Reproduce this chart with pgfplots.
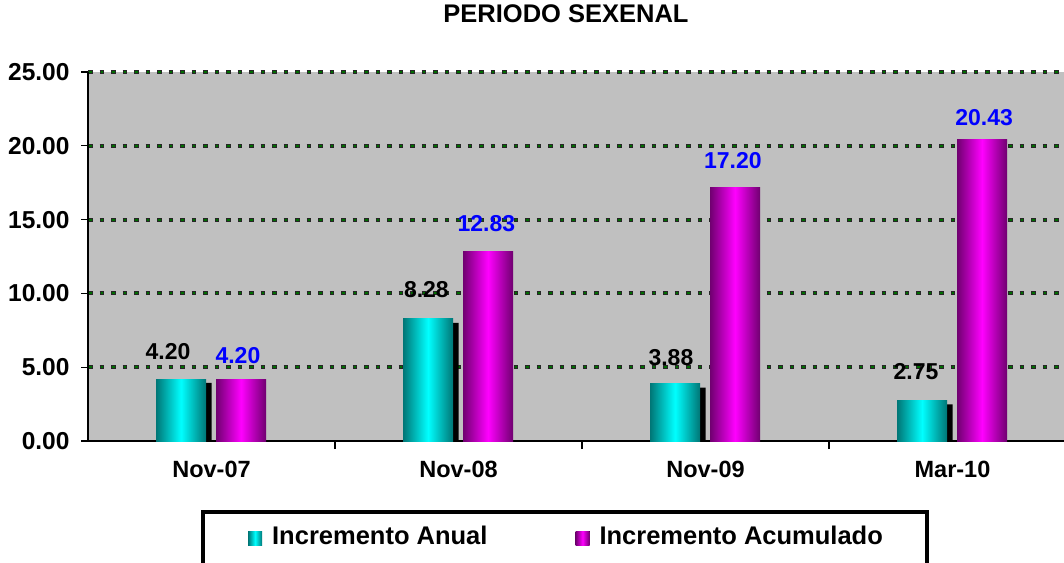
\documentclass[border=0pt]{standalone}
\usepackage{pgfplots}
\pgfplotsset{compat=1.18}
\usepackage{fontspec}
\setmainfont{Liberation Sans}
\definecolor{plotgray}{RGB}{192,192,192}
\definecolor{cyanedge}{RGB}{0,118,118}
\definecolor{cyanmid}{RGB}{0,255,255}
\definecolor{magedge}{RGB}{112,0,112}
\definecolor{magmid}{RGB}{255,0,255}
\definecolor{labblue}{RGB}{0,0,255}
\definecolor{gridgreen}{RGB}{0,110,0}
\pgfplotsset{
  anualbar/.style={ybar, bar width=50pt, bar shift=-30.5pt, draw=none,
    left color=cyanedge, right color=cyanedge, middle color=cyanmid},
  acumbar/.style={ybar, bar width=50pt, bar shift=29.5pt, draw=none,
    left color=magedge, right color=magedge, middle color=magmid},
}
\begin{document}
\begin{tikzpicture}[x=1pt,y=1pt]
\useasboundingbox (0,0) rectangle (1064,562);
\begin{axis}[
  at={(88pt,121pt)}, anchor=south west,
  scale only axis, width=988pt, height=369pt,
  xmin=-0.5, xmax=3.5, ymin=0, ymax=25,
  clip=false,
  axis background/.style={fill=plotgray},
  axis x line*=bottom, axis y line*=left,
  axis line style={-, black, line width=1.2pt},
  tick align=outside,
  major tick length=7pt,
  minor tick length=8pt,
  xtick={0,1,2,3},
  xticklabels={Nov-07,Nov-08,Nov-09,Mar-10},
  minor xtick={0.5,1.5,2.5},
  major x tick style={draw=none},
  minor x tick style={draw=black, line width=1.2pt},
  ytick={5,10,15,20,25},
  extra y ticks={0},
  extra y tick style={grid=none},
  y tick style={draw=black, line width=1.2pt},
  ymajorgrids,
  major grid style={draw=black!85, line width=4pt, dash pattern=on 4.5pt off 7pt,
    postaction={draw=gridgreen, line width=2pt, dash pattern=on 2.5pt off 9pt, dash phase=-1pt}},
  /pgf/number format/assume math mode=true,
  yticklabel={\pgfmathprintnumber[fixed,fixed zerofill,precision=2]{\tick}},
  tick label style={font=\bfseries\fontsize{23.5}{27}\selectfont, text=black},
  yticklabel style={font=\bfseries\fontsize{24.5}{28}\selectfont, xshift=-8pt},
  xticklabel style={yshift=-10pt},
  title={PERIODO SEXENAL},
  title style={at={(axis description cs:0.4838,1.1409)}, anchor=center,
    font=\bfseries\fontsize{25.5}{30}\selectfont},
  legend style={at={(axis description cs:0.1619,-0.258)}, anchor=west,
    draw=none, fill=none, inner sep=0pt,
    font=\bfseries\fontsize{25.5}{30}\selectfont,
    /tikz/every even column/.append style={column sep=86pt}},
  legend columns=2,
  legend cell align=left,
]
% shadow behind the annual bars
\addplot[ybar, bar width=50pt, bar shift=-25pt, fill=black, draw=none, forget plot]
  coordinates {(0,3.93) (1,8.01) (2,3.61) (3,2.48)};
% Incremento Anual (one plot per bar, so each bar gets its own shading)
\addplot[anualbar,
  legend image code/.code={\fill[left color=cyanedge,right color=cyanedge,middle color=cyanmid] (0pt,-9pt) rectangle (14pt,5pt); \path (22pt,0pt);}]
  coordinates {(0,4.20)};
\addlegendentry{Incremento Anual}
\addplot[anualbar, forget plot] coordinates {(1,8.28)};
\addplot[anualbar, forget plot] coordinates {(2,3.88)};
\addplot[anualbar, forget plot] coordinates {(3,2.75)};
% Incremento Acumulado
\addplot[acumbar,
  legend image code/.code={\fill[left color=magedge,right color=magedge,middle color=magmid] (0pt,-9pt) rectangle (14pt,5pt); \path (22pt,0pt);}]
  coordinates {(0,4.20)};
\addlegendentry{Incremento Acumulado}
\addplot[acumbar, forget plot] coordinates {(1,12.83)};
\addplot[acumbar, forget plot] coordinates {(2,17.20)};
\addplot[acumbar, forget plot] coordinates {(3,20.43)};
% value labels
\addplot[only marks, mark=none, forget plot, nodes near coords, point meta=explicit symbolic,
  nodes near coords style={anchor=center, font=\bfseries\fontsize{23}{26}\selectfont, text=black}]
  table[meta=l] {
x y l
-0.176 6.06 4.20
0.870 10.23 8.28
1.860 5.62 3.88
2.852 4.70 2.75
};
\addplot[only marks, mark=none, forget plot, nodes near coords, point meta=explicit symbolic,
  nodes near coords style={anchor=center, font=\bfseries\fontsize{23}{26}\selectfont, text=labblue}]
  table[meta=l] {
x y l
0.107 5.76 4.20
1.113 14.74 12.83
2.111 18.97 17.20
3.128 21.88 20.43
};
\end{axis}
\draw[line width=4pt, black] (203,50) rectangle (927,-20);
\end{tikzpicture}
\end{document}
